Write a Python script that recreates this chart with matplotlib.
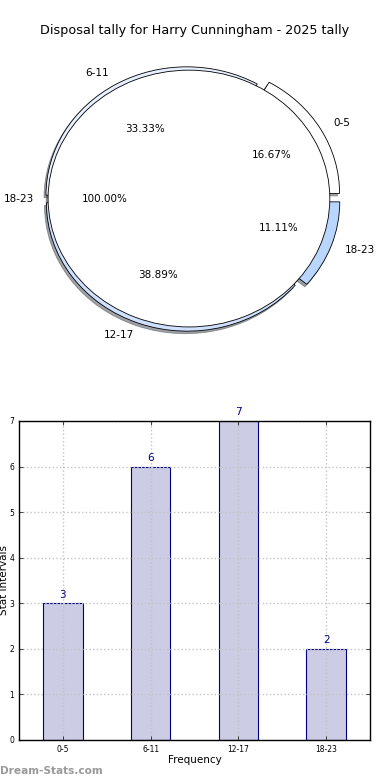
import matplotlib
matplotlib.use('Agg')
import matplotlib.pyplot as plt

# data
intervals = ['0-5', '6-11', '12-17', '18-23']
counts = [3, 6, 7, 2]
pie_colors = ['#ffffff', '#e8efff', '#cfe1ff', '#b8d6ff']
pie_explode = [0.08, 0.03, 0.035, 0.075]
inner_label = ['18-23']
inner_value = [1]

title = 'Disposal tally for Harry Cunningham - 2025 tally'

fig = plt.figure(figsize=(3.9, 7.8), dpi=100)
fig.text(0.5, 0.961, title, ha='center', va='center', fontsize=9.2)

# pie (outer wedges, then a full inner pie on top)
ax1 = fig.add_axes([0.033, 0.5397, 0.903, 0.4115])
ax1.pie(counts, labels=intervals, colors=pie_colors, explode=pie_explode,
        autopct='%1.2f%%', shadow={'ox': -0.01, 'oy': -0.014}, startangle=0,
        wedgeprops={'linewidth': 0.6, 'edgecolor': 'black'},
        textprops={'fontsize': 7.5})
ax1.pie(inner_value, labels=inner_label, colors=['white'], autopct='%1.2f%%',
        shadow={'ox': -0.01, 'oy': -0.014}, startangle=0,
        wedgeprops={'linewidth': 0.6, 'edgecolor': 'black'},
        textprops={'fontsize': 7.5})
ax1.set_aspect('auto')
ax1.set_xlim(-1.25, 1.25)
ax1.set_ylim(-1.25, 1.25)

# bar chart
ax2 = fig.add_axes([0.0487, 0.0513, 0.9, 0.409])
x = list(range(len(intervals)))
bars = ax2.bar(x, counts, width=0.45, color='#ccccE4', edgecolor='#000080', linewidth=0.8)
for b, v in zip(bars, counts):
    ax2.text(b.get_x() + b.get_width() / 2, v + 0.08, str(v), ha='center', va='bottom',
             fontsize=7.5, color='#000080')
ax2.set_xlim(-0.5, 3.5)
ax2.set_ylim(0, 7)
ax2.set_xticks(x)
ax2.set_xticklabels(intervals)
ax2.set_yticks(range(8))
ax2.tick_params(labelsize=5.5, direction='in', top=True, right=True, length=3, width=0.5)
ax2.grid(True, linestyle=':', color='#c4c4c4', linewidth=1)
ax2.set_axisbelow(False)
ax2.set_xlabel('Frequency', fontsize=7.5, labelpad=1)
ax2.set_ylabel('Stat Intervals', fontsize=7.5, labelpad=0)
for s in ax2.spines.values():
    s.set_linewidth(1)
    s.set_zorder(6)

fig.text(0.0, 0.012, 'Dream-Stats.com', fontsize=7.6, color='#999999', fontweight='bold',
         ha='left', va='center')

fig.savefig('out.png', dpi=100)
